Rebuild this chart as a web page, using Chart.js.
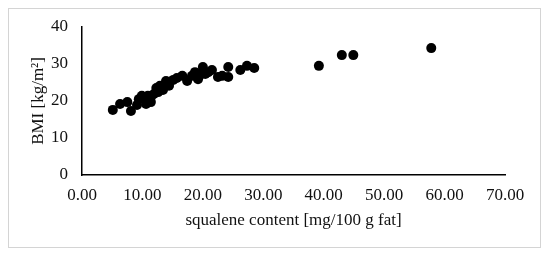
<!DOCTYPE html>
<html>
<head>
<meta charset="utf-8">
<script src="https://cdn.jsdelivr.net/npm/chart.js@4"></script>
<style>
    html, body { margin: 0; padding: 0; background: #fff; }
    #wrap { width: 550px; height: 258px; position: relative; }
</style>
</head>
<body>
<div id="wrap"><canvas id="chart" width="550" height="258"></canvas></div>
<script>
// squalene content [mg/100 g fat] vs BMI [kg/m2]
const squalene = [5.1, 6.3, 7.5, 8.1, 9.1, 9.4, 9.9, 10.4, 10.6, 10.9, 11.4, 11.4, 11.9, 12.3, 12.6, 12.9,
    13.4, 13.9, 14.4, 15.1, 15.7, 16.6, 17.4, 18.2, 18.7, 19.2, 19.5, 20.0, 20.4, 20.9, 21.5,
    22.5, 23.2, 24.2, 24.2, 26.2, 27.3, 28.5, 39.2, 43.0, 44.9, 57.8];
const bmi = [17.6, 19.2, 19.7, 17.3, 18.9, 20.5, 21.4, 20.8, 19.2, 21.4, 21.1, 19.7, 21.9, 23.5, 22.4, 24.1,
    23.0, 25.4, 24.1, 25.7, 26.2, 26.8, 25.4, 26.8, 27.8, 25.9, 27.0, 29.2, 27.3, 27.8, 28.4,
    26.5, 26.8, 29.2, 26.5, 28.4, 29.5, 28.9, 29.5, 32.4, 32.4, 34.3];

const xTicks = [0, 10, 20, 30, 40, 50, 60, 70];
const yTicks = [0, 10, 20, 30, 40];

const points = squalene.map((x, i) => ({ x: x, y: bmi[i] }));

// light grey frame round the whole figure
const framePlugin = {
    id: 'frame',
    beforeDraw(chart) {
        const ctx = chart.ctx;
        ctx.save();
        ctx.fillStyle = '#fff';
        ctx.fillRect(0, 0, chart.width, chart.height);
        ctx.strokeStyle = '#d4d4d4';
        ctx.lineWidth = 1;
        ctx.strokeRect(8.5, 8.5, 532, 239);
        ctx.restore();
    }
};

const font = { family: '"Liberation Serif", "Times New Roman", serif', size: 17 };

new Chart(document.getElementById('chart'), {
    type: 'scatter',
    data: {
        datasets: [{
            data: points,
            backgroundColor: '#000',
            borderWidth: 0,
            pointRadius: 5,
            pointHoverRadius: 5
        }]
    },
    options: {
        responsive: false,
        animation: false,
        layout: { padding: { left: 0, right: 45, top: 27, bottom: 0 } },
        plugins: { legend: { display: false }, tooltip: { enabled: false } },
        scales: {
            x: {
                type: 'linear',
                min: xTicks[0],
                max: xTicks[xTicks.length - 1],
                afterBuildTicks: s => { s.ticks = xTicks.map(v => ({ value: v })); },
                afterFit: s => { s.height = 83; },
                grid: { display: false, drawTicks: false },
                border: { display: true, color: '#000', width: 1.5 },
                ticks: {
                    padding: 10,
                    color: '#111',
                    font: font,
                    maxRotation: 0,
                    callback: v => v.toFixed(2)
                },
                title: {
                    display: true,
                    text: 'squalene content [mg/100 g fat]',
                    color: '#111',
                    font: font,
                    padding: { top: 0, bottom: 27 }
                }
            },
            y: {
                type: 'linear',
                min: yTicks[0],
                max: yTicks[yTicks.length - 1],
                afterBuildTicks: s => { s.ticks = yTicks.map(v => ({ value: v })); },
                afterFit: s => { s.width = 82; },
                grid: { display: false, drawTicks: false },
                border: { display: true, color: '#000', width: 1.5 },
                ticks: { padding: 14, color: '#111', font: font },
                title: {
                    display: true,
                    text: 'BMI [kg/m²]',
                    color: '#111',
                    font: font,
                    padding: { top: 28, bottom: 0 }
                }
            }
        }
    },
    plugins: [framePlugin]
});
</script>
</body>
</html>
